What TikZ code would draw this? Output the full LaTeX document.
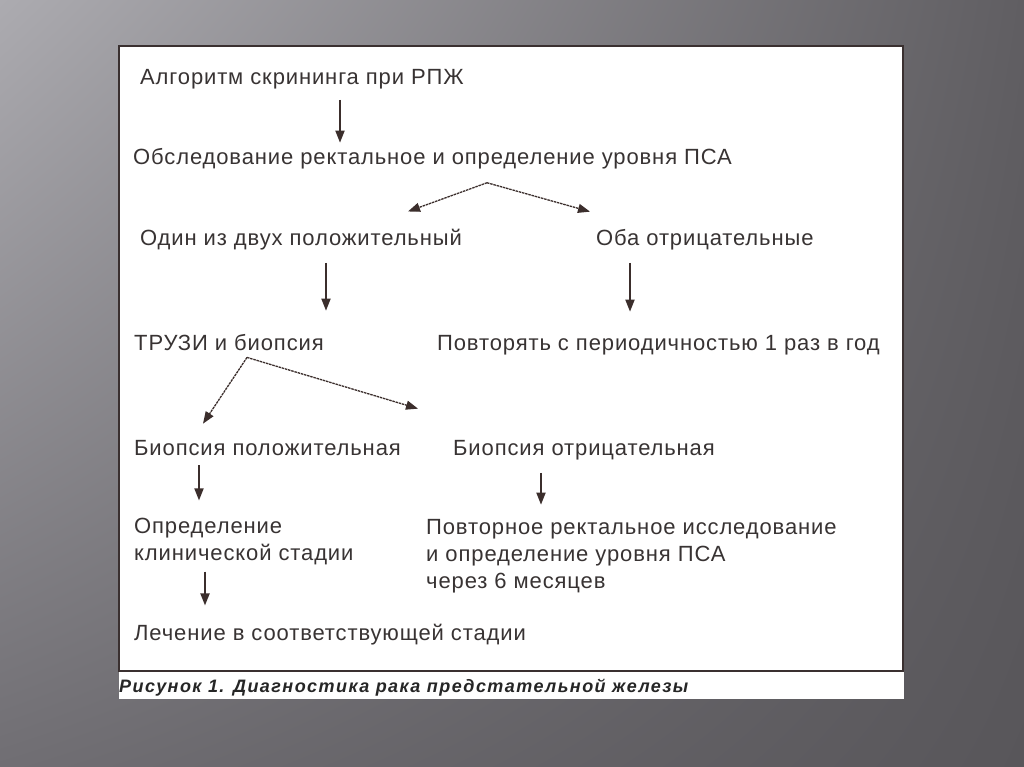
\documentclass[tikz,border=0pt]{standalone}
\usepackage{fontspec}
\setmainfont{Liberation Sans}
\usetikzlibrary{arrows.meta,shadings}

\definecolor{inkgray}{HTML}{383333}
\definecolor{arrowbrown}{HTML}{3B2E2C}
\definecolor{frameline}{HTML}{3A3030}
\definecolor{slideUL}{RGB}{172,171,176}
\definecolor{slideUR}{RGB}{96,94,98}
\definecolor{slideLL}{RGB}{112,110,115}
\definecolor{slideLR}{RGB}{88,86,90}

\tikzset{
  txt/.style={anchor=base west, inner sep=0pt, text=inkgray,
    font=\fontsize{22}{27}\selectfont\addfontfeature{LetterSpace=4}, align=left},
  capt/.style={anchor=base west, inner sep=0pt, text=black!85,
    font=\fontsize{18}{20}\selectfont\bfseries\itshape\addfontfeature{LetterSpace=8}},
  varrow/.style={draw=arrowbrown, line width=1.8pt,
    -{Triangle[width=9pt,length=12pt]}},
  darrow/.style={draw=arrowbrown, line width=1.3pt, dash pattern=on 2.5pt off 0.8pt,
    -{Triangle[width=9pt,length=12pt]}},
}

\begin{document}
\begin{tikzpicture}[x=1pt, y=-1pt]
  \useasboundingbox (0,0) rectangle (1024,767);
  % slide background and the white sheet
  \shade[upper left=slideUL, upper right=slideUR,
         lower left=slideLL, lower right=slideLR]
    (0,0) rectangle (1024,767);
  \fill[white] (119,671) rectangle (904,699);
  \draw[frameline, line width=2pt, fill=white] (119,46) rectangle (903,671);

  % texts
  \node[txt] (algo) at (140,85) {Алгоритм скрининга при РПЖ};
  \node[txt] (exam) at (133,165) {Обследование ректальное и определение уровня ПСА};
  \node[txt] (onepos) at (140,245) {Один из двух положительный};
  \node[txt] (bothneg) at (596,245) {Оба отрицательные};
  \node[txt] (trus) at (134,350) {ТРУЗИ и биопсия};
  \node[txt] (yearly) at (437,350) {Повторять с периодичностью 1 раз в год};
  \node[txt] (biopos) at (134,455) {Биопсия положительная};
  \node[txt] (bioneg) at (453,455) {Биопсия отрицательная};
  \node[txt] (stage) at (134,560) {Определение\\клинической стадии};
  \node[txt] (repeat) at (426,588) {Повторное ректальное исследование\\и определение уровня ПСА\\через 6 месяцев};
  \node[txt] (treat) at (134,640) {Лечение в соответствующей стадии};
  \node[capt] (caption) at (119,692) {Рисунок 1. Диагностика рака предстательной железы};

  % straight arrows
  \foreach \a/\b/\x/\s/\e in {algo/exam/340/10/6, onepos/trus/326/13/23,
      bothneg/yearly/630/13/23, biopos/stage/199/10/17,
      bioneg/repeat/541/13/14, stage/treat/205/7/18}
    \draw[varrow, shorten <=\s pt, shorten >=\e pt] (\a.south -| \x,0) -- (\b.north -| \x,0);

  % forks
  \coordinate (fork1) at ([yshift=-13pt]exam.south -| 487,0);
  \coordinate (fork2) at ([yshift=-7pt]trus.south -| 247,0);
  \draw[darrow] (fork1) -- ([yshift=17pt]onepos.north -| 408,0);
  \draw[darrow] (fork1) -- ([yshift=17pt]bothneg.north -| 590,0);
  \draw[darrow] (fork2) -- ([yshift=16pt]biopos.north -| 203,0);
  \draw[darrow] (fork2) -- ([yshift=31pt]bioneg.north -| 418,0);
\end{tikzpicture}
\end{document}
